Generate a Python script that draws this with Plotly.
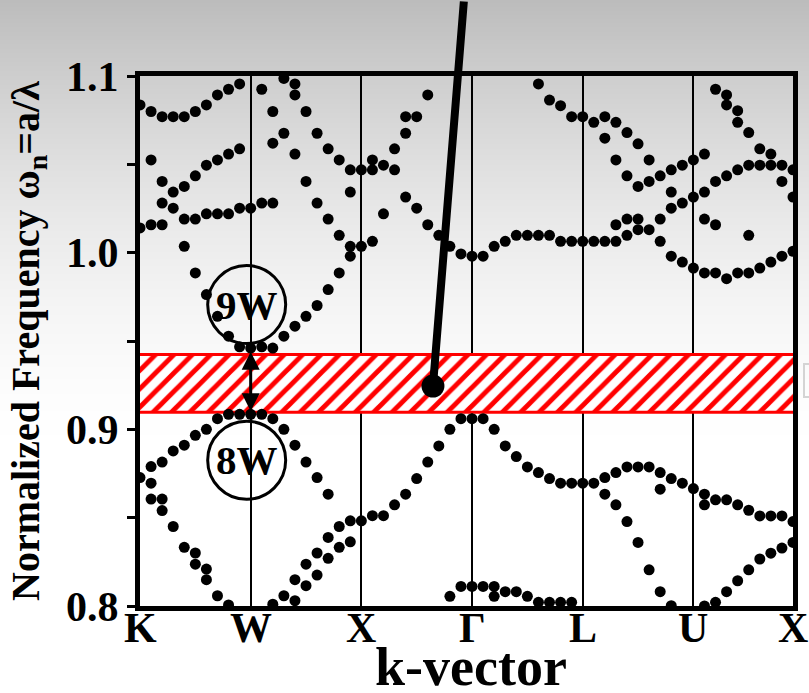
import zlib, struct, base64
import plotly.graph_objects as go

# ---------------- data ----------------
tick_pos = [0, 1, 2, 3, 4, 5, 5.9]
tick_labels = ["K", "W", "X", "Γ", "L", "U", "X"]

# K - W segment
kw_k = [0, 0.1, 0.2, 0.3, 0.4, 0.5, 0.6, 0.7, 0.8, 0.9,
        0.1, 0.2, 0.3, 0.4, 0.5, 0.6, 0.7, 0.8, 0.9,
        0.2, 0.3,
        0, 0.1, 0.2, 0.4, 0.5, 0.6, 0.7, 0.8, 0.9, 1.0,
        0.4, 0.5, 0.6, 0.7, 0.8, 0.9, 1.0,
        0, 0.1, 0.2, 0.3, 0.4, 0.5, 0.6, 0.7, 0.8, 0.9, 1.0,
        0.1, 0.1, 0.2, 0.2, 0.3, 0.4, 0.5, 0.5, 0.6, 0.6, 0.7, 0.8]
kw_f = [1.0836, 1.0799, 1.077, 1.077, 1.077, 1.0799, 1.0836, 1.0893, 1.0925, 1.0955,
        1.0525, 1.0403, 1.0343, 1.0375, 1.0435, 1.0495, 1.0525, 1.0558, 1.0588,
        1.0281, 1.0252,
        1.014, 1.0158, 1.0158, 1.019, 1.019, 1.022, 1.022, 1.022, 1.0252, 1.0252,
        1.0036, 0.9885, 0.9763, 0.964, 0.9527, 0.9467, 0.946,
        0.8727, 0.8789, 0.8815, 0.8878, 0.891, 0.8966, 0.900, 0.906, 0.9085, 0.9085, 0.9085,
        0.8695, 0.8605, 0.8605, 0.854, 0.845, 0.8332, 0.83, 0.8237, 0.8209, 0.8149, 0.8058, 0.8006]

# W - X segment
wx_k = [1.1, 1.3, 1.4, 1.4, 1.2, 1.5, 1.3, 1.2, 1.6, 1.7, 1.4, 1.8, 1.9, 2.0,
        1.5, 1.9, 1.6, 1.7, 1.8, 1.9, 2.0, 1.9, 1.8, 1.7, 1.6, 1.5, 1.4, 1.3, 1.2, 1.1,
        1.1, 1.2,
        1.1, 1.2, 1.3, 1.4, 1.5, 1.6, 1.7,
        1.3, 1.4, 1.5, 1.6, 1.7, 1.8, 1.9, 2.0,
        1.4, 1.5, 1.6, 1.7, 1.8, 1.9, 1.2]
wx_f = [1.0925, 1.0986, 1.0955, 1.0893, 1.0799, 1.0799, 1.0676, 1.062, 1.0676, 1.0588, 1.0558, 1.0525, 1.0469, 1.0469,
        1.0403, 1.0343, 1.0281, 1.019, 1.0098, 1.0036, 1.0036, 0.998, 0.9885, 0.9791, 0.9701, 0.964, 0.9584, 0.9527, 0.946, 0.9467,
        1.0281, 1.0281,
        0.9085, 0.906, 0.900, 0.891, 0.8815, 0.8727, 0.8633,
        0.8058, 0.8149, 0.8237, 0.83, 0.8388, 0.845, 0.8482, 0.8482,
        0.803, 0.8115, 0.8175, 0.827, 0.8332, 0.8363, 0.801]

# X - Gamma segment
xg_k = [2.1, 2.1, 2.2, 2.3, 2.3, 2.4, 2.4, 2.5, 2.6,
        2.4, 2.5, 2.6, 2.7, 2.8, 2.9, 3.0,
        2.1, 2.2,
        2.1, 2.2, 2.3, 2.4, 2.5, 2.6, 2.7, 2.8, 2.9, 3.0,
        2.8, 2.9, 3.0]
xg_f = [1.0469, 1.0525, 1.0495, 1.0469, 1.0588, 1.0676, 1.077, 1.077, 1.0893,
        1.0315, 1.0252, 1.0158, 1.0098, 1.0036, 0.9993, 0.998,
        1.0064, 1.022,
        0.8511, 0.8511, 0.8573, 0.8633, 0.8721, 0.8815, 0.8906, 0.900, 0.906, 0.906,
        0.8055, 0.8111, 0.8111]

# Gamma - L segment
gl_k = [3.1, 3.2, 3.3, 3.4, 3.5, 3.6, 3.7, 3.8, 3.9, 4.0,
        3.6, 3.7, 3.8, 3.9, 4.0,
        3.1, 3.2, 3.3, 3.4, 3.5, 3.6, 3.7, 3.8, 3.9, 4.0,
        3.1, 3.2, 3.2, 3.3, 3.4, 3.5, 3.6, 3.7, 3.8, 3.9]
gl_f = [0.998, 1.0036, 1.0064, 1.0098, 1.0098, 1.0098, 1.0098, 1.0064, 1.0064, 1.0064,
        1.0955, 1.0864, 1.0832, 1.077, 1.077,
        0.906, 0.900, 0.8906, 0.8846, 0.8787, 0.8755, 0.8721, 0.8695, 0.8695, 0.8695,
        0.8111, 0.8111, 0.8055, 0.8081, 0.8081, 0.8055, 0.8021, 0.8021, 0.8021, 0.8021]

# L - U segment
lu_k = [4.1, 4.2, 4.3, 4.4, 4.5, 4.2, 4.3, 4.4, 4.5, 4.6, 4.7, 4.8, 4.9, 5.0, 4.6,
        4.8, 4.8, 4.9, 5.0,
        4.1, 4.2, 4.3, 4.3, 4.4, 4.5, 4.4, 4.5, 4.6, 4.7, 4.7,
        4.8, 4.9, 5.0,
        4.1, 4.2, 4.3, 4.4, 4.5, 4.6, 4.7, 4.8, 4.9, 5.0,
        4.2, 4.3, 4.4, 4.5, 4.6, 4.7, 4.8, 4.7]
lu_f = [1.0738, 1.077, 1.0738, 1.068, 1.0616, 1.0648, 1.0525, 1.0435, 1.0375, 1.0403, 1.0435, 1.0469, 1.0495, 1.0525, 1.0525,
        1.0343, 1.0252, 1.0281, 1.0315,
        1.0064, 1.0064, 1.0064, 1.0158, 1.019, 1.019, 1.0098, 1.013, 1.013, 1.019, 1.0064,
        0.998, 0.9947, 0.9913,
        0.8695, 0.8727, 0.8755, 0.8787, 0.8787, 0.8787, 0.8755, 0.8721, 0.8695, 0.8665,
        0.8633, 0.8573, 0.8478, 0.836, 0.8205, 0.8081, 0.8002, 0.8661]

# U - X segment
ux_k = [5.1, 5.1, 5.2, 5.3, 5.4, 5.5, 5.6, 5.7, 5.8, 5.9, 5.8, 5.9,
        5.2, 5.3, 5.3, 5.4, 5.4, 5.5, 5.6, 5.7,
        5.1, 5.2, 5.5,
        5.1, 5.2, 5.3, 5.4, 5.5, 5.6, 5.7, 5.8, 5.9,
        5.1, 5.2, 5.3, 5.4, 5.5, 5.6, 5.7, 5.8, 5.9, 5.1,
        5.9, 5.8, 5.7, 5.6, 5.5, 5.4, 5.3, 5.2, 5.1]
ux_f = [1.0558, 1.0343, 1.0403, 1.0435, 1.0469, 1.0495, 1.0495, 1.0495, 1.0495, 1.0469, 1.0403, 1.0315,
        1.0925, 1.0893, 1.0836, 1.0804, 1.0738, 1.068, 1.0588, 1.0558,
        1.019, 1.0158, 1.0098,
        0.9885, 0.9885, 0.9853, 0.9885, 0.9885, 0.9913, 0.9947, 0.998, 1.0008,
        0.8633, 0.8601, 0.8601, 0.8573, 0.8542, 0.851, 0.851, 0.851, 0.8478, 0.8573,
        0.836, 0.8328, 0.8299, 0.8266, 0.8205, 0.8143, 0.8081, 0.8021, 0.800]

# photonic band gap, marked point and labels
gap_low, gap_high = 0.9096, 0.9424
marker_k, marker_f = 2.647, 0.9245
label_9w_f, label_8w_f = 0.9706, 0.8825
arrow_low, arrow_high = 0.9103, 0.9448

FONT = "Liberation Serif"
K_MIN, K_MAX = 0, 5.9
F_MIN, F_MAX = 0.8, 1.1
W, H = 809, 693
ML, MR, MT, MB = 140, 16, 76, 87
plot_w = W - ML - MR
plot_h = H - MT - MB
plot_bottom = MT + plot_h


def gradient_png(h):
    raw = b""
    for i in range(h):
        t = max(0.0, 1 - i / 460)
        g = int(round(255 - 67 * t ** 1.7))
        raw += b"\x00" + bytes([g, g, g])

    def chunk(tag, data):
        c = struct.pack(">I", len(data)) + tag + data
        return c + struct.pack(">I", zlib.crc32(tag + data) & 0xffffffff)

    png = (b"\x89PNG\r\n\x1a\n"
           + chunk(b"IHDR", struct.pack(">IIBBBBB", 1, h, 8, 2, 0, 0, 0))
           + chunk(b"IDAT", zlib.compress(raw))
           + chunk(b"IEND", b""))
    return "data:image/png;base64," + base64.b64encode(png).decode()


def paper_y(px):
    return -(px - plot_bottom) / plot_h


def paper_x(px):
    return (px - ML) / plot_w


fig = go.Figure()

# hatched band gap
fig.add_trace(go.Scatter(
    x=[K_MIN - 0.05, K_MAX + 0.05, K_MAX + 0.05, K_MIN - 0.05, K_MIN - 0.05],
    y=[gap_low, gap_low, gap_high, gap_high, gap_low],
    mode="lines", fill="toself", fillcolor="white",
    fillpattern=dict(shape="/", fgcolor="#ff0000", bgcolor="white", size=13,
                     solidity=0.38, fgopacity=1, fillmode="replace"),
    line=dict(color="#ff0000", width=3), hoverinfo="skip", showlegend=False))

all_k = kw_k + wx_k + xg_k + gl_k + lu_k + ux_k
all_f = kw_f + wx_f + xg_f + gl_f + lu_f + ux_f
fig.add_trace(go.Scatter(x=all_k, y=all_f, mode="markers",
                         marker=dict(color="black", size=11, line=dict(width=0)),
                         showlegend=False))

fig.add_trace(go.Scatter(x=[marker_k], y=[marker_f], mode="markers",
                         marker=dict(color="black", size=23), showlegend=False))

fig.add_layout_image(dict(
    source=gradient_png(H), xref="paper", yref="paper",
    x=-ML / plot_w, y=1 + MT / plot_h, sizex=W / plot_w, sizey=H / plot_h,
    xanchor="left", yanchor="top", sizing="stretch", layer="below"))

# faint bracket cut off at the right edge
fig.add_shape(type="rect", xref="paper", yref="paper",
              x0=paper_x(804), x1=paper_x(815), y0=paper_y(397), y1=paper_y(364),
              line=dict(color="#d4d4d4", width=2), fillcolor="rgba(0,0,0,0)")

# circles 9W / 8W
for fc in (label_9w_f, label_8w_f):
    fig.add_shape(type="circle", xref="x", yref="y",
                  xsizemode="pixel", ysizemode="pixel",
                  xanchor=1, yanchor=fc, x0=-43, x1=35, y0=-39, y1=39,
                  line=dict(color="black", width=3), fillcolor="rgba(0,0,0,0)")

for fc, txt in ((label_9w_f, "9W"), (label_8w_f, "8W")):
    fig.add_annotation(x=1, y=fc, text=txt, showarrow=False, xshift=-4,
                       xanchor="center", yanchor="middle",
                       font=dict(family=FONT, size=41, color="black", weight="bold"))

# double arrow across the gap at W
fig.add_annotation(x=1, y=arrow_low, ax=1, ay=arrow_high, axref="x", ayref="y",
                   text="", showarrow=True, arrowside="end+start",
                   arrowhead=2, startarrowhead=2, arrowsize=1.2, startarrowsize=1.2,
                   arrowwidth=3, arrowcolor="black")

# thick pointer line
fig.add_annotation(x=marker_k, y=marker_f, ax=31, ay=-392, text="",
                   showarrow=True, arrowhead=0, arrowwidth=8, arrowcolor="black",
                   standoff=0)

# x tick labels
for kp, lab in zip(tick_pos, tick_labels):
    fig.add_annotation(x=kp, xref="x", yref="paper", y=paper_y(628),
                       text=lab, showarrow=False, xanchor="center", yanchor="middle",
                       font=dict(family=FONT, size=42, color="black", weight="bold"))

# axis titles
fig.add_annotation(xref="paper", yref="paper", x=paper_x(28), y=0.5,
                   xanchor="center", yanchor="middle",
                   text="Normalized Frequency ω<sub>n</sub>=a/λ", textangle=-90,
                   showarrow=False,
                   font=dict(family=FONT, size=40, color="black", weight="bold"))
fig.add_annotation(xref="paper", yref="paper", x=0.5, y=paper_y(667),
                   xshift=4, xanchor="center", yanchor="middle",
                   text="k-vector", showarrow=False,
                   font=dict(family=FONT, size=54, color="black", weight="bold"))

fig.update_xaxes(range=[K_MIN, K_MAX], tickvals=tick_pos, showticklabels=False,
                 showline=True, linewidth=5, linecolor="black", mirror=True,
                 showgrid=True, gridcolor="black", gridwidth=2, zeroline=False,
                 ticks="", automargin=False)
fig.update_yaxes(range=[F_MIN, F_MAX], dtick=0.1, tickformat=".1f",
                 showline=True, linewidth=5, linecolor="black", mirror=True,
                 showgrid=False, zeroline=False, automargin=False,
                 ticks="outside", ticklen=8, tickwidth=3, tickcolor="black",
                 minor=dict(dtick=0.05, ticks="outside", ticklen=8, tickwidth=3,
                            tickcolor="black", showgrid=False),
                 tickfont=dict(family=FONT, size=42, color="black", weight="bold"))

fig.update_layout(width=W, height=H, margin=dict(l=ML, r=MR, t=MT, b=MB),
                  paper_bgcolor="white", plot_bgcolor="rgba(0,0,0,0)",
                  showlegend=False)

fig.write_html("out.html")
